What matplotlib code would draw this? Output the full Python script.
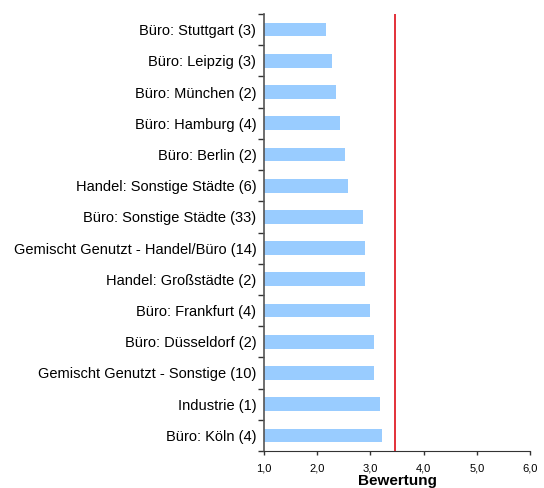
import matplotlib.pyplot as plt
import numpy as np

plt.rcParams['font.family'] = ['Liberation Sans', 'DejaVu Sans']

# categories top -> bottom
kategorien = ['Büro: Stuttgart (3)', 'Büro: Leipzig (3)', 'Büro: München (2)',
              'Büro: Hamburg (4)', 'Büro: Berlin (2)', 'Handel: Sonstige Städte (6)',
              'Büro: Sonstige Städte (33)', 'Gemischt Genutzt - Handel/Büro (14)',
              'Handel: Großstädte (2)', 'Büro: Frankfurt (4)', 'Büro: Düsseldorf (2)',
              'Gemischt Genutzt - Sonstige (10)', 'Industrie (1)', 'Büro: Köln (4)']
bewertung = [2.17, 2.28, 2.35, 2.43, 2.52, 2.58, 2.86, 2.90, 2.90, 3.00, 3.07, 3.06, 3.18, 3.22]
mittelwert = 3.46
xticks = [1, 2, 3, 4, 5, 6]
xticklabels = ['1,0', '2,0', '3,0', '4,0', '5,0', '6,0']

fig = plt.figure(figsize=(5.44, 4.88), dpi=100)
ax = fig.add_axes([264/544, 1 - 451/488, 266/544, 437/488])

y = np.arange(len(kategorien))
ax.barh(y, np.array(bewertung) - 1, left=1, height=0.44, color='#99CCFF')
ax.axvline(mittelwert, color='#E0202A', lw=1.3)

ax.set_xlim(1, 6)
ax.set_ylim(len(kategorien) - 0.5, -0.5)
ax.set_xticks(xticks)
ax.set_xticklabels(xticklabels, fontsize=8)
ax.set_yticks(y)
ax.set_yticklabels(kategorien, fontsize=10.5)
ax.set_yticks(np.arange(len(kategorien) + 1) - 0.5, minor=True)
ax.tick_params(axis='y', which='major', length=0, pad=5.5)
ax.tick_params(axis='y', which='minor', length=4, width=1, color='#333333')
ax.tick_params(axis='x', length=3, width=1, color='#333333', pad=6)
ax.set_xlabel('Bewertung', fontsize=11, fontweight='bold', labelpad=0)

for s in ['top', 'right']:
    ax.spines[s].set_visible(False)
ax.spines['left'].set_color('#555555')
ax.spines['bottom'].set_color('#333333')
ax.spines['left'].set_linewidth(1.2)

fig.savefig('out.png', dpi=100)
